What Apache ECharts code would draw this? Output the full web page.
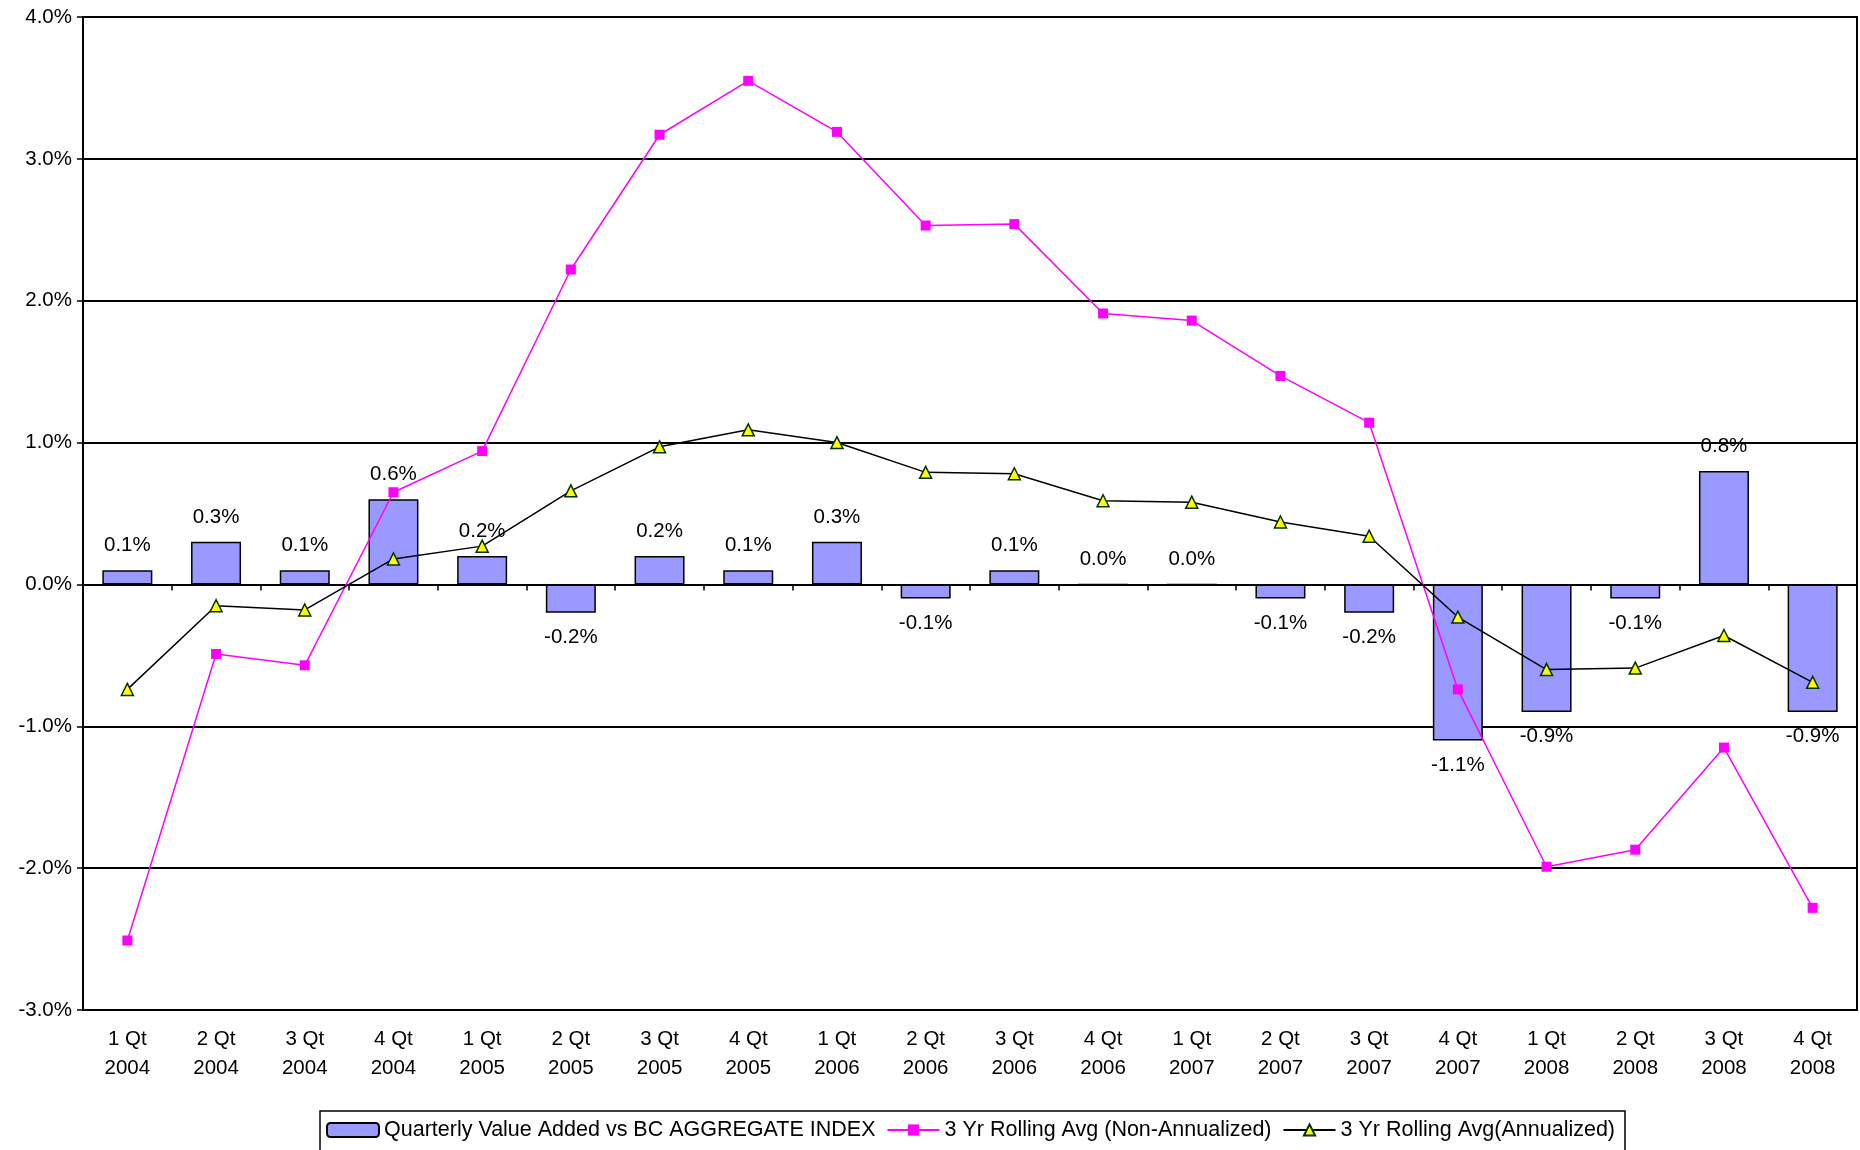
<!DOCTYPE html>
<html>
<head>
<meta charset="utf-8">
<title>Quarterly Value Added</title>
<script src="https://cdn.jsdelivr.net/npm/echarts@6/dist/echarts.min.js"></script>
<style>
  html, body { margin: 0; padding: 0; background: #fff; }
  #chart { width: 1860px; height: 1150px; }
</style>
</head>
<body>
<div id="chart"></div>
<script>
  // quarters on the x axis
  const quarters = [
    '1 Qt\n2004', '2 Qt\n2004', '3 Qt\n2004', '4 Qt\n2004',
    '1 Qt\n2005', '2 Qt\n2005', '3 Qt\n2005', '4 Qt\n2005',
    '1 Qt\n2006', '2 Qt\n2006', '3 Qt\n2006', '4 Qt\n2006',
    '1 Qt\n2007', '2 Qt\n2007', '3 Qt\n2007', '4 Qt\n2007',
    '1 Qt\n2008', '2 Qt\n2008', '3 Qt\n2008', '4 Qt\n2008'
  ]
  // values in percent
  const valueAdded = [0.1, 0.3, 0.1, 0.6, 0.2, -0.2, 0.2, 0.1, 0.3, -0.1,
    0.1, 0.0, 0.0, -0.1, -0.2, -1.1, -0.9, -0.1, 0.8, -0.9]
  const rollingNonAnn = [-2.51, -0.49, -0.57, 0.65, 0.94, 2.22, 3.17, 3.55, 3.19, 2.53,
    2.54, 1.91, 1.86, 1.47, 1.14, -0.74, -1.99, -1.87, -1.15, -2.28]
  const rollingAnn = [-0.74, -0.15, -0.18, 0.18, 0.27, 0.66, 0.97, 1.09, 1.00, 0.79,
    0.78, 0.59, 0.58, 0.44, 0.34, -0.23, -0.60, -0.59, -0.36, -0.69]

  const font = 'Liberation Sans, Arial, sans-serif'
  const fs = 20.5
  const chart = echarts.init(document.getElementById('chart'))

  chart.setOption({
    animation: false,
    backgroundColor: '#fff',
    textStyle: { fontFamily: font },
    grid: {
      left: 83,
      right: 3,
      top: 17,
      bottom: 140,
      show: true,
      borderColor: '#000',
      borderWidth: 2
    },
    legend: {
      left: 320,
      top: 1111,
      padding: [8, 10, 40, 6],
      itemGap: 11,
      itemWidth: 52,
      itemHeight: 14,
      borderColor: '#000',
      borderWidth: 1.5,
      textStyle: {
        fontFamily: font,
        fontSize: 21.5,
        color: '#000'
      },
      data: [
        'Quarterly Value Added vs BC AGGREGATE INDEX',
        '3 Yr Rolling Avg (Non-Annualized)',
        '3 Yr Rolling Avg(Annualized)'
      ]
    },
    xAxis: [{
      // labels along the bottom
      type: 'category',
      data: quarters,
      position: 'bottom',
      axisLine: { show: false, onZero: false },
      axisTick: { show: false },
      axisLabel: {
        color: '#000',
        fontSize: fs,
        lineHeight: 29,
        margin: 15
      }
    }, {
      // zero line with the ticks
      type: 'category',
      data: quarters,
      position: 'bottom',
      axisLine: { onZero: true, lineStyle: { color: '#000', width: 2 } },
      axisTick: { show: true, length: 6, lineStyle: { color: '#000', width: 1.5 } },
      axisLabel: { show: false }
    }],
    yAxis: {
      type: 'value',
      min: -3,
      max: 4,
      interval: 1,
      axisLine: { show: true, lineStyle: { color: '#000', width: 2 } },
      axisTick: { show: true, length: 6, lineStyle: { color: '#000', width: 1.5 } },
      axisLabel: {
        color: '#000',
        fontSize: fs,
        margin: 11,
        formatter: v => v.toFixed(1) + '%'
      },
      splitLine: { lineStyle: { color: '#000', width: 2 } }
    },
    series: [{
      name: 'Quarterly Value Added vs BC AGGREGATE INDEX',
      type: 'bar',
      xAxisIndex: 0,
      barWidth: 50,
      data: valueAdded.map(v => ({
        value: v,
        label: { position: v < 0 ? 'bottom' : 'top' }
      })),
      itemStyle: { color: '#9999FF', borderColor: '#000', borderWidth: 1.5 },
      label: {
        show: true,
        color: '#000',
        fontSize: fs,
        distance: 14,
        formatter: p => p.value.toFixed(1) + '%'
      },
      z: 2
    }, {
      name: '3 Yr Rolling Avg (Non-Annualized)',
      type: 'line',
      xAxisIndex: 0,
      data: rollingNonAnn,
      symbol: 'rect',
      symbolSize: 10,
      lineStyle: { color: '#FF00FF', width: 1.5 },
      itemStyle: { color: '#FF00FF' },
      z: 3
    }, {
      name: '3 Yr Rolling Avg(Annualized)',
      type: 'line',
      xAxisIndex: 0,
      data: rollingAnn,
      symbol: 'triangle',
      symbolSize: 12,
      lineStyle: { color: '#000', width: 1.5 },
      itemStyle: { color: '#FFFF00', borderColor: '#003300', borderWidth: 1.5 },
      z: 4
    }]
  })
</script>
</body>
</html>
